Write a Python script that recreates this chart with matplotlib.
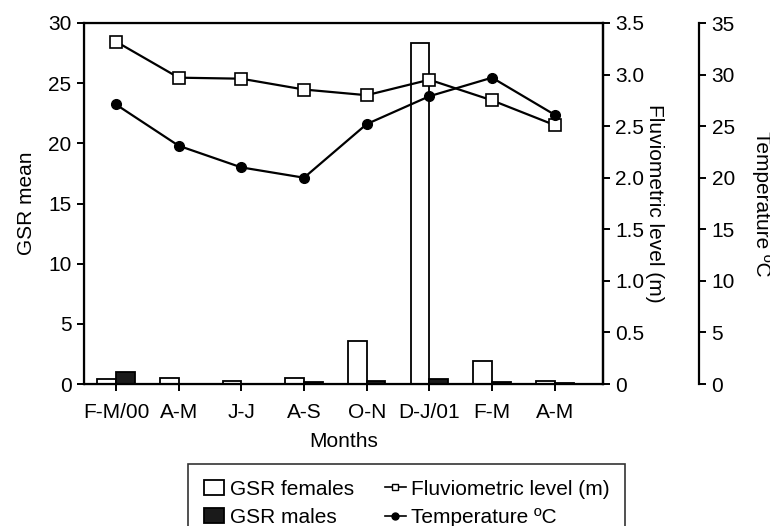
import numpy as np
import matplotlib
matplotlib.use("Agg")
import matplotlib.pyplot as plt
from matplotlib.patches import Patch
from matplotlib.lines import Line2D

plt.rcParams['font.family'] = ['Liberation Sans', 'DejaVu Sans']
plt.rcParams['font.size'] = 15

# data
months = ['F-M/00', 'A-M', 'J-J', 'A-S', 'O-N', 'D-J/01', 'F-M', 'A-M']
gsr_females = [0.38, 0.47, 0.28, 0.47, 3.6, 28.3, 1.95, 0.25]
gsr_males = [1.0, 0.0, 0.0, 0.17, 0.22, 0.39, 0.13, 0.1]
fluvio_level = [3.32, 2.97, 2.96, 2.855, 2.80, 2.95, 2.75, 2.51]
temperature = [27.1, 23.1, 21.0, 20.0, 25.2, 27.9, 29.7, 26.1]

x = np.arange(len(months))
w = 0.30

fig = plt.figure(figsize=(7.7, 5.26), dpi=100)
ax = fig.add_axes([84/770, 1-384/526, 519/770, 361/526])

ax.bar(x - w/2, gsr_females, w, color='white', edgecolor='black', linewidth=1.3)
ax.bar(x + w/2, gsr_males, w, color='#1a1a1a', edgecolor='black', linewidth=1.3)
ax.set_xlim(-0.51, 7.77)
ax.set_ylim(0, 30)
ax.set_yticks([0, 5, 10, 15, 20, 25, 30])
ax.set_xticks(x)
ax.set_xticklabels(months)
ax.set_ylabel('GSR mean', labelpad=9)
ax.set_xlabel('Months', labelpad=7)
for s in ax.spines.values():
    s.set_linewidth(1.6)
ax.tick_params(width=1.4, length=5, pad=4)
ax.tick_params(axis='x', pad=9)

# fluviometric level
ax2 = ax.twinx()
ax2.plot(x, fluvio_level, color='black', lw=1.6, marker='s', ms=8,
         mfc='white', mec='black', mew=1.2)
ax2.set_ylim(0, 3.5)
ax2.set_yticks(np.arange(0, 3.6, 0.5))
ax2.set_yticklabels(['0'] + [f'{v:.1f}' for v in np.arange(0.5, 3.6, 0.5)])
ax2.set_ylabel('Fluviometric level (m)', rotation=270, labelpad=14)
ax2.spines['right'].set_linewidth(1.6)
ax2.tick_params(width=1.4, length=5, pad=4)

# temperature on an offset axis
ax3 = ax.twinx()
ax3.plot(x, temperature, color='black', lw=1.6, marker='o', ms=7,
         mfc='black', mec='black')
ax3.set_ylim(0, 35)
ax3.set_yticks(np.arange(0, 36, 5))
ax3.spines['right'].set_position(('axes', 1.185))
ax3.spines['top'].set_visible(False)
ax3.spines['left'].set_visible(False)
ax3.spines['bottom'].set_visible(False)
ax3.spines['right'].set_linewidth(1.6)
ax3.set_ylabel('Temperature ºC', rotation=270, labelpad=26)
ax3.tick_params(width=1.4, length=5, pad=4)

handles = [
    Patch(facecolor='white', edgecolor='black', linewidth=1.3, label='GSR females'),
    Patch(facecolor='#1a1a1a', edgecolor='black', linewidth=1.3, label='GSR males'),
    Line2D([], [], color='black', lw=1.2, marker='s', ms=5, mfc='white',
           mec='black', label='Fluviometric level (m)'),
    Line2D([], [], color='black', lw=1.2, marker='o', ms=5, mfc='black',
           label='Temperature ºC'),
]
leg = fig.legend(handles=handles, ncol=2, loc='upper left',
                 bbox_to_anchor=(188/770, 1-464/526), borderaxespad=0,
                 frameon=True, fancybox=False, edgecolor='black',
                 handlelength=1.0, handleheight=0.7, handletextpad=0.25,
                 columnspacing=1.5, labelspacing=0.44, borderpad=0.75,
                 fontsize=15)
leg.get_frame().set_linewidth(1.2)

fig.savefig('out.png', dpi=100)
